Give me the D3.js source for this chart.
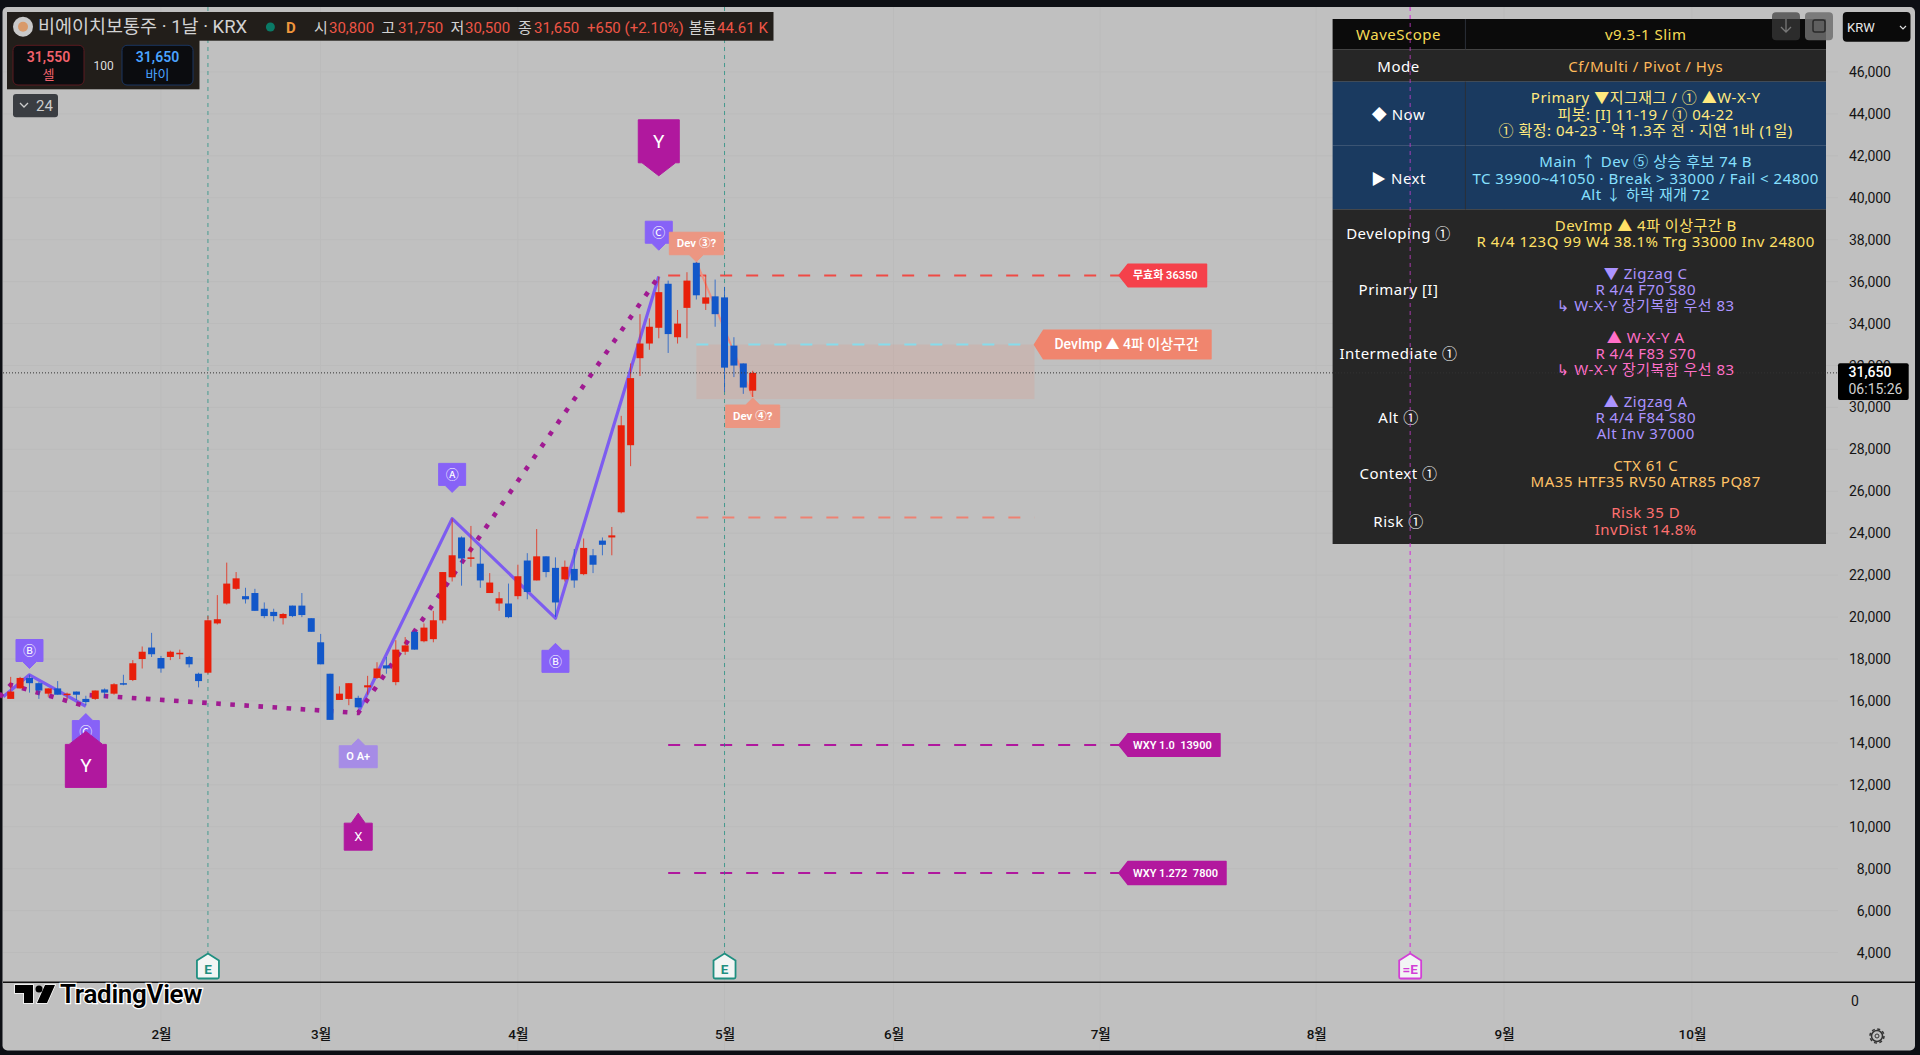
<!DOCTYPE html>
<html lang="ko">
<head>
    <meta charset="UTF-8">
    <script src="https://d3js.org/d3.v7.min.js"></script>
    <style>
        body { margin: 0; background: #0d0f14; overflow: hidden; }
        svg { display: block; }
        text { font-family: Roboto, 'Noto Sans CJK KR', sans-serif; white-space: pre; }
        .tbl text { font-family: 'Noto Sans', 'Noto Sans CJK KR', 'DejaVu Sans', sans-serif; font-size: 15px; letter-spacing: 0.5px; text-anchor: middle; dominant-baseline: central; }
        .pad text { text-anchor: middle; dominant-baseline: central; fill: #fff; }
    </style>
</head>
<body>
    <svg id="chart" width="1920" height="1055"></svg>

    <script>
        // Daily candles
        const opens = [16100,16600,17100,16850,16350,16600,16300,16450,16100,16100,16550,16350,16850,17000,18000,18550,18050,18100,18250,18100,17300,17350,19700,20650,21350,21000,21150,20400,20250,19950,20550,20550,19950,18800,17300,16050,16100,16150,16650,17100,17700,16900,18350,19300,18850,18950,19850,21900,23800,22800,22550,21150,20650,20650,21000,22700,21750,22900,22350,21800,22300,22050,22950,23650,23800,25000,28200,32350,33050,33800,35900,33350,34750,36900,34950,35300,35250,32950,32100,30800];
        const closes = [16450,17100,16850,16500,16600,16300,16350,16300,15950,16500,16400,16800,16800,17800,18350,18230,17550,18350,18300,17750,16950,19850,19900,21600,21850,20850,20300,20050,20050,20150,20050,20100,19300,17750,15100,16350,16850,15700,16750,17550,17550,18450,18650,18450,19500,19850,22150,22950,22800,22850,21750,21650,20900,20000,21950,21200,22900,22150,20700,22400,21750,23300,22500,23450,23900,29150,31400,33050,33850,35500,33500,34000,36050,35350,35250,34450,31900,32000,30950,31650];
        const highs = [17150,17150,17250,16900,16600,16950,16400,16450,16250,16500,16600,16850,17250,17950,18600,19250,18150,18400,18450,18150,17350,20050,21050,22600,22150,21400,21350,20700,20400,20200,20550,21150,19950,19200,17300,16700,16850,16250,17200,17850,18100,18900,19050,19350,19700,20300,22150,24700,23850,24350,23350,22100,21200,21600,22500,23050,24200,22900,22850,22700,23250,23750,23250,23800,24300,29600,32100,34450,34250,36250,36050,34650,36450,36950,36300,36100,35750,33350,32100,31750];
        const lows = [16100,16600,16400,16100,16200,16300,16100,16050,15800,16050,16150,16300,16750,16950,17550,18100,17350,17950,18000,17600,16650,17300,19650,20600,21300,20650,20300,19950,19800,19650,20000,20000,19300,17750,15100,16050,15800,15650,16300,17050,17300,16750,18200,18450,18800,18800,19700,21700,21500,22400,21400,21150,20300,19950,20850,20850,21750,21900,20000,21700,21400,22000,22100,22950,22950,24950,27200,31500,32750,33300,32600,33050,33300,35150,34650,33850,30750,31450,30650,30500];

        // Price and time axis
        const priceTicks = [46000,44000,42000,40000,38000,36000,34000,32000,30000,28000,26000,24000,22000,20000,18000,16000,14000,12000,10000,8000,6000,4000];
        const monthIdx = [16,33,54,76,94,116,139,159,179];
        const monthLabels = ['2월','3월','4월','5월','6월','7월','8월','9월','10월'];

        // Wave lines as bar index / price pivots
        const waveLeftIdx = [-0.8,2,8];
        const waveLeftPrice = [16200,17250,15750];
        const waveMainIdx = [37,47,58,69];
        const waveMainPrice = [15450,24700,19950,36250];
        const dotLeftIdx = [-1.2,0,8];
        const dotLeftPrice = [16200,16770,15750];
        const dotMainIdx = [8.4,37,69];
        const dotMainPrice = [16280,15430,36250];
        const devIdx = [73,79];
        const devPrice = [36950,30500];

        // Horizontal levels
        const levelPrices = [36300,33000,24750,13900,7800];
        const levelFrom = [70,73,73,70,70];
        const levelTo = [118,109,109,118,118];
        const levelColors = ['#ef4b45','#86dcec','#ee8172','#b0189e','#b0189e'];
        const zonePrices = [33000,30400];
        const zoneIdx = [73,109];

        // Vertical event lines
        const eventIdx = [21,76,149];
        const eventColors = ['#1f8f80','#1f8f80','#d23fd6'];
        const eventLabels = ['E','E','=E'];

        // Tags on the wave pivots
        const tagText = ['Ⓒ','Dev ③?','Dev ④?','Ⓐ','Ⓑ','Ⓑ','Ⓒ','Y','Y','X','O A+'];
        const tagIdx = [69,73,79,47,58,2,8,8,69,37,37];
        const tagPrice = [37500,36950,30450,25950,18750,17550,15400,14550,41050,10650,14200];
        const tagDir = ['down','down','up','down','up','down','up','up','down','up','up'];
        const tagKind = ['wave','dev','dev','wave','wave','wave','wave','big','big','mid','oa'];

        // Level labels
        const flagText = ['무효화 36350','DevImp ▲ 4파 이상구간','WXY 1.0  13900','WXY 1.272  7800'];
        const flagIdx = [118,109,118,118];
        const flagPrice = [36300,33000,13900,7800];
        const flagColors = ['#f5414b','#f0856e','#b2189e','#b2189e'];

        // WaveScope table
        const tableLabels = ['WaveScope','Mode','◆ Now','▶ Next','Developing ①','Primary [I]','Intermediate ①','Alt ①','Context ①','Risk ①'];
        const tableLines = [
            ['v9.3-1 Slim'],
            ['Cf/Multi / Pivot / Hys'],
            ['Primary ▼지그재그 / ① ▲W-X-Y','피봇: [I] 11-19 / ① 04-22','① 확정: 04-23 · 약 1.3주 전 · 지연 1바 (1일)'],
            ['Main ↑ Dev ⑤ 상승 후보 74 B','TC 39900~41050 · Break > 33000 / Fail < 24800','Alt ↓ 하락 재개 72'],
            ['DevImp ▲ 4파 이상구간 B','R 4/4 123Q 99 W4 38.1% Trg 33000 Inv 24800'],
            ['▼ Zigzag C','R 4/4 F70 S80','↳ W-X-Y 장기복합 우선 83'],
            ['▲ W-X-Y A','R 4/4 F83 S70','↳ W-X-Y 장기복합 우선 83'],
            ['▲ Zigzag A','R 4/4 F84 S80','Alt Inv 37000'],
            ['CTX 61 C','MA35 HTF35 RV50 ATR85 PQ87'],
            ['Risk 35 D','InvDist 14.8%']
        ];
        const tableColors = ['#f6dc55','#ffb95a','#ffe97f','#86e0ff','#ffe066','#ab93ff','#ff6fc8','#ab93ff','#ffc266','#ff7070'];

        const data = opens.map((o, i) => ({ i, o, c: closes[i], h: highs[i], l: lows[i] }));

        const svg = d3.select('#chart');

        // Scales
        const x = d3.scaleLinear().domain([0, 79]).range([10.7, 752.7]);
        const y = d3.scaleLinear().domain([4000, 46000]).range([952.6, 72]);

        // Panel
        svg.append('rect').attr('x', 2.5).attr('y', 7).attr('width', 1912.5).attr('height', 1043.5).attr('rx', 5).attr('fill', '#c0c0c0');

        // Grid
        svg.append('g').selectAll('line').data(priceTicks).enter().append('line')
            .attr('x1', 3).attr('x2', 1838).attr('y1', d => y(d)).attr('y2', d => y(d))
            .attr('stroke', '#bbbbbb');
        svg.append('g').selectAll('line').data(monthIdx).enter().append('line')
            .attr('x1', d => x(d)).attr('x2', d => x(d)).attr('y1', 7).attr('y2', 1050)
            .attr('stroke', '#bbbbbb');

        // Zone and levels
        svg.append('rect')
            .attr('x', x(zoneIdx[0])).attr('width', x(zoneIdx[1]) - x(zoneIdx[0]))
            .attr('y', y(zonePrices[0])).attr('height', y(zonePrices[1]) - y(zonePrices[0]))
            .attr('fill', '#e8907c').attr('fill-opacity', 0.2);

        svg.append('g').selectAll('line').data(levelPrices).enter().append('line')
            .attr('x1', (d, i) => x(levelFrom[i])).attr('x2', (d, i) => x(levelTo[i]))
            .attr('y1', d => y(d)).attr('y2', d => y(d))
            .attr('stroke', (d, i) => levelColors[i]).attr('stroke-width', 2)
            .attr('stroke-dasharray', '12 14');

        // Event lines
        svg.append('g').selectAll('line').data(eventIdx).enter().append('line')
            .attr('x1', d => x(d)).attr('x2', d => x(d)).attr('y1', 7).attr('y2', 954)
            .attr('stroke', (d, i) => eventColors[i]).attr('stroke-dasharray', '4 4').attr('stroke-opacity', 0.75);

        // Wave and dotted lines
        const line = d3.line().x(d => x(d[0])).y(d => y(d[1]));
        const zipped = (a, b) => a.map((v, i) => [v, b[i]]);

        svg.append('path').attr('d', line(zipped(devIdx, devPrice)))
            .attr('fill', 'none').attr('stroke', '#ee9180').attr('stroke-width', 2);
        [[waveLeftIdx, waveLeftPrice], [waveMainIdx, waveMainPrice]].forEach(w => {
            svg.append('path').attr('d', line(zipped(w[0], w[1])))
                .attr('fill', 'none').attr('stroke', '#7d5cf0').attr('stroke-width', 3.2).attr('stroke-linejoin', 'round');
        });
        [[dotLeftIdx, dotLeftPrice], [dotMainIdx, dotMainPrice]].forEach(w => {
            svg.append('path').attr('d', line(zipped(w[0], w[1])))
                .attr('fill', 'none').attr('stroke', '#a01a92').attr('stroke-width', 4.6).attr('stroke-dasharray', '4.6 9.5');
        });

        // Candles
        const candleColor = d => d.c >= d.o ? '#e81f0a' : '#1257c9';
        const candles = svg.append('g').selectAll('g').data(data).enter().append('g');
        candles.append('line')
            .attr('x1', d => x(d.i)).attr('x2', d => x(d.i))
            .attr('y1', d => y(d.h)).attr('y2', d => y(d.l))
            .attr('stroke', candleColor).attr('stroke-opacity', 0.75);
        candles.append('rect')
            .attr('x', d => x(d.i) - 3.5).attr('width', 7)
            .attr('y', d => y(Math.max(d.o, d.c)))
            .attr('height', d => Math.max(1.5, Math.abs(y(d.o) - y(d.c))))
            .attr('fill', candleColor);

        // Tags with a pointer
        const kinds = {
            wave: { w: 27, h: 22, p: 7, fill: '#8762f7', size: 13 },
            dev: { w: 54, h: 22.5, p: 7, fill: '#ec9682', size: 11.5, bold: true },
            big: { w: 41, h: 43, p: 13, fill: '#b0189e', size: 19 },
            mid: { w: 28, h: 27, p: 10, fill: '#b0189e', size: 13 },
            oa: { w: 38, h: 22, p: 7, fill: '#a68ce6', size: 11, bold: true }
        };
        function tagPath(k, dir) {
            const s = dir === 'down' ? -1 : 1; // box sits on the far side of the tip
            const w = k.w / 2;
            return `M0,0 L${7 * (k.p > 10 ? 2.4 : 1)},${s * k.p} L${w},${s * k.p} L${w},${s * (k.p + k.h)} L${-w},${s * (k.p + k.h)} L${-w},${s * k.p} L${-7 * (k.p > 10 ? 2.4 : 1)},${s * k.p} Z`;
        }
        const tags = svg.append('g').attr('class', 'pad').selectAll('g').data(tagText).enter().append('g')
            .attr('transform', (d, i) => `translate(${x(tagIdx[i])},${y(tagPrice[i])})`);
        tags.append('path')
            .attr('d', (d, i) => tagPath(kinds[tagKind[i]], tagDir[i]))
            .attr('fill', (d, i) => kinds[tagKind[i]].fill)
            .attr('stroke', (d, i) => kinds[tagKind[i]].fill).attr('stroke-width', 1).attr('stroke-linejoin', 'round');
        tags.append('text')
            .attr('y', (d, i) => {
                const k = kinds[tagKind[i]];
                return (tagDir[i] === 'down' ? -1 : 1) * (k.p + k.h / 2);
            })
            .attr('font-size', (d, i) => kinds[tagKind[i]].size)
            .attr('font-weight', (d, i) => kinds[tagKind[i]].bold ? 600 : 400)
            .text(d => d);

        // Level labels
        const flagW = [87.5, 176.5, 101, 107];
        const flagH = [22.5, 28.5, 22.5, 23];
        const flags = svg.append('g').selectAll('g').data(flagText).enter().append('g')
            .attr('transform', (d, i) => `translate(${x(flagIdx[i])},${y(flagPrice[i])})`);
        flags.append('path')
            .attr('d', (d, i) => {
                const w = flagW[i], h = flagH[i] / 2;
                return `M0,0 L9,${-h} L${w},${-h} L${w},${h} L9,${h} Z`;
            })
            .attr('fill', (d, i) => flagColors[i])
            .attr('stroke', (d, i) => flagColors[i]).attr('stroke-width', 1.5).attr('stroke-linejoin', 'round');
        flags.append('text')
            .attr('x', (d, i) => i === 1 ? 20 : 14).attr('dy', '0.35em')
            .attr('fill', '#fff')
            .attr('font-size', (d, i) => i === 1 ? 14 : 11)
            .attr('font-weight', (d, i) => i === 1 ? 500 : 600)
            .text(d => d);

        // Table
        const rowTops = [19, 49.3, 81.7, 145.7, 209.3, 257, 321, 385, 449, 497];
        const rowBottoms = [49.3, 81.7, 145.7, 209.3, 257, 321, 385, 449, 497, 544];
        const rowFills = ['#0b0b0b', '#262626', '#1a3a60', '#1a3a60', '#262626', '#262626', '#262626', '#262626', '#262626', '#262626'];
        const tbl = svg.append('g').attr('class', 'tbl');
        const rows = tbl.selectAll('g').data(tableLabels).enter().append('g');
        rows.append('rect')
            .attr('x', 1332.6).attr('width', 493.4)
            .attr('y', (d, i) => rowTops[i]).attr('height', (d, i) => rowBottoms[i] - rowTops[i])
            .attr('fill', (d, i) => rowFills[i]);
        rows.filter((d, i) => i === 0 || (i >= 2 && i <= 3)).append('line')
            .attr('x1', 1465.4).attr('x2', 1465.4)
            .attr('y1', (d, i) => rowTops[i === 0 ? 0 : i + 1]).attr('y2', (d, i) => rowBottoms[i === 0 ? 0 : i + 1])
            .attr('stroke', '#2b3038');
        rows.append('text')
            .attr('x', 1398.5)
            .attr('y', (d, i) => (rowTops[i] + rowBottoms[i]) / 2)
            .attr('fill', (d, i) => i === 0 ? tableColors[0] : '#ffffff')
            .text(d => d);
        rows.each(function (d, i) {
            const lines = tableLines[i];
            const mid = (rowTops[i] + rowBottoms[i]) / 2;
            d3.select(this).selectAll('.val').data(lines).enter().append('text')
                .attr('class', 'val')
                .attr('x', 1645.7)
                .attr('y', (t, j) => mid + (j - (lines.length - 1) / 2) * 16.3)
                .attr('fill', tableColors[i])
                .text(t => t);
        });

        // Event line that runs over the table
        svg.append('line')
            .attr('x1', x(eventIdx[2])).attr('x2', x(eventIdx[2])).attr('y1', 7).attr('y2', 954)
            .attr('stroke', eventColors[2]).attr('stroke-dasharray', '4 4').attr('stroke-opacity', 0.75);

        // Last price line
        svg.append('line')
            .attr('x1', 3).attr('x2', 1838).attr('y1', y(closes[79])).attr('y2', y(closes[79]))
            .attr('stroke', '#333').attr('stroke-dasharray', '1 2');

        // Time axis strip
        svg.append('line').attr('x1', 3).attr('x2', 1915).attr('y1', 982.3).attr('y2', 982.3)
            .attr('stroke', '#111').attr('stroke-width', 1.5);

        // Event flags
        const ev = svg.append('g').selectAll('g').data(eventIdx).enter().append('g')
            .attr('transform', d => `translate(${x(d)},953.5)`);
        ev.append('path')
            .attr('d', 'M0,0 L11,7 L11,23.5 Q11,25 9.5,25 L-9.5,25 Q-11,25 -11,23.5 L-11,7 Z')
            .attr('fill', '#f2f5f4').attr('stroke', (d, i) => eventColors[i]).attr('stroke-width', 1.8);
        ev.append('text')
            .attr('y', 20).attr('text-anchor', 'middle').attr('font-size', 13.5).attr('font-weight', 700)
            .attr('fill', (d, i) => eventColors[i]).text((d, i) => eventLabels[i]);

        // Price axis
        const priceAxis = d3.axisRight(y).tickValues(priceTicks).tickFormat(d3.format(',')).tickSize(0).tickPadding(0);
        const pa = svg.append('g').attr('transform', 'translate(1891,0)').call(priceAxis);
        pa.select('.domain').remove();
        pa.selectAll('text').attr('text-anchor', 'end').attr('font-size', 14).attr('fill', '#141414')
            .style('font-family', "Roboto, sans-serif");
        svg.append('text').attr('x', 1851).attr('y', 1006).attr('font-size', 14).attr('fill', '#141414').text('0');

        // Time axis
        const timeAxis = d3.axisBottom(x).tickValues(monthIdx).tickFormat((d, i) => monthLabels[i]).tickSize(0).tickPadding(0);
        const ta = svg.append('g').attr('transform', 'translate(0,1029)').call(timeAxis);
        ta.select('.domain').remove();
        ta.selectAll('text').attr('font-size', 13.5).attr('font-weight', 500).attr('fill', '#111')
            .style('font-family', "Roboto, 'Noto Sans CJK KR', sans-serif");

        // Last price box
        svg.append('rect').attr('x', 1838).attr('y', 363.3).attr('width', 70.7).attr('height', 36.7).attr('rx', 2).attr('fill', '#000');
        svg.append('text').attr('x', 1848.5).attr('y', 377).attr('font-size', 14).attr('font-weight', 500).attr('fill', '#fff').text('31,650');
        svg.append('text').attr('x', 1848.5).attr('y', 394).attr('font-size', 14).attr('fill', '#d0d0d0').text('06:15:26');

        // Legend
        svg.append('rect').attr('x', 7).attr('y', 12).attr('width', 766.5).attr('height', 28.7).attr('fill', '#221e1a');
        svg.append('rect').attr('x', 7).attr('y', 40).attr('width', 192.5).attr('height', 49.3).attr('fill', '#221e1a');
        svg.append('circle').attr('cx', 23).attr('cy', 26.7).attr('r', 10).attr('fill', '#c9c9c9');
        svg.append('circle').attr('cx', 23).attr('cy', 26.7).attr('r', 5).attr('fill', '#d99a6a');
        svg.append('circle').attr('cx', 270.4).attr('cy', 27).attr('r', 4.5).attr('fill', '#0a7a66');

        const legendGrey = ['시', '고', '저', '종', '볼륨'];
        const legendGreyX = [314, 381.6, 450.5, 518, 688.8];
        const legendVal = ['30,800', '31,750', '30,500', '31,650', '+650 (+2.10%)', '44.61 K'];
        const legendValX = [329, 398, 465, 534, 587, 717];
        const lg = svg.append('g').attr('font-size', 15);
        lg.append('text').attr('x', 38).attr('y', 33).attr('font-size', 18.5).attr('fill', '#d2d2d2').text('비에이치보통주 · 1날 · KRX');
        lg.append('text').attr('x', 286).attr('y', 33).attr('font-weight', 700).attr('fill', '#f0963c').text('D');
        lg.selectAll('.g').data(legendGrey).enter().append('text').attr('class', 'g')
            .attr('x', (d, i) => legendGreyX[i]).attr('y', 32.5).attr('fill', '#d2d2d2').text(d => d);
        lg.selectAll('.v').data(legendVal).enter().append('text').attr('class', 'v')
            .attr('x', (d, i) => legendValX[i]).attr('y', 32.5).attr('fill', '#ee5546').text(d => d);

        // Sell / buy buttons
        const tradeX = [13, 122];
        const tradeVal = ['31,550', '31,650'];
        const tradeSide = ['셀', '바이'];
        const tradeColor = ['#f0626c', '#4aa3ff'];
        const tradeEdge = ['#5a1a20', '#1a3560'];
        const tr = svg.append('g').selectAll('g').data(tradeX).enter().append('g').attr('transform', d => `translate(${d},45.3)`);
        tr.append('rect').attr('width', 71).attr('height', 39.7).attr('rx', 5).attr('fill', '#0b0c0f')
            .attr('stroke', (d, i) => tradeEdge[i]);
        tr.append('text').attr('x', 35.5).attr('y', 17).attr('text-anchor', 'middle').attr('font-size', 14).attr('font-weight', 600)
            .attr('fill', (d, i) => tradeColor[i]).text((d, i) => tradeVal[i]);
        tr.append('text').attr('x', 35.5).attr('y', 34).attr('text-anchor', 'middle').attr('font-size', 13)
            .attr('fill', (d, i) => tradeColor[i]).text((d, i) => tradeSide[i]);
        svg.append('text').attr('x', 103.6).attr('y', 69.5).attr('text-anchor', 'middle').attr('font-size', 12).attr('fill', '#ddd').text('100');

        // Collapse button
        svg.append('rect').attr('x', 13).attr('y', 94).attr('width', 45).attr('height', 23.3).attr('rx', 3).attr('fill', '#3a3d42');
        svg.append('path').attr('d', 'M20,103 L24,107 L28,103').attr('fill', 'none').attr('stroke', '#ccc').attr('stroke-width', 1.3);
        svg.append('text').attr('x', 36).attr('y', 111).attr('font-size', 15).attr('fill', '#ccc').text('24');

        // Top right buttons
        [1772, 1805].forEach((bx, i) => {
            svg.append('rect').attr('x', bx).attr('y', 12.3).attr('width', 28).attr('height', 28).attr('rx', 4)
                .attr('fill', i === 0 ? '#3a3a3a' : '#6e6e6e').attr('fill-opacity', i === 0 ? 0.7 : 0.85);
        });
        svg.append('path').attr('d', 'M1786,19 L1786,32 M1781,27 L1786,32 L1791,27').attr('fill', 'none').attr('stroke', '#777').attr('stroke-width', 1.3);
        svg.append('rect').attr('x', 1813).attr('y', 20).attr('width', 12).attr('height', 12).attr('rx', 2).attr('fill', 'none').attr('stroke', '#2a2a2a').attr('stroke-width', 1.5);
        svg.append('rect').attr('x', 1842.8).attr('y', 12).attr('width', 67.7).attr('height', 29.7).attr('rx', 4).attr('fill', '#0a0a0a');
        svg.append('text').attr('x', 1847).attr('y', 31.5).attr('font-size', 13).attr('fill', '#e8e8e8').text('KRW');
        svg.append('path').attr('d', 'M1900,26 L1903,29 L1906,26').attr('fill', 'none').attr('stroke', '#ddd').attr('stroke-width', 1.2);

        // TradingView mark
        svg.append('path').attr('d', 'M15,985 L33,985 L33,1003 L24,1003 L24,993 L15,993 Z M45,985 L55,985 L47,1003 L37,1003 Z')
            .attr('fill', '#000').attr('stroke', '#fff').attr('stroke-width', 1.5).attr('paint-order', 'stroke');
        svg.append('circle').attr('cx', 39).attr('cy', 989).attr('r', 3.5).attr('fill', '#000');
        svg.append('text').attr('x', 60).attr('y', 1003).attr('font-size', 26).attr('font-weight', 600).attr('fill', '#000')
            .attr('stroke', '#fff').attr('stroke-width', 2.5).attr('paint-order', 'stroke').attr('letter-spacing', -0.3).text('TradingView');

        // Settings gear
        svg.append('circle').attr('cx', 1877).attr('cy', 1036).attr('r', 5.5).attr('fill', 'none').attr('stroke', '#333').attr('stroke-width', 1.5);
        svg.append('circle').attr('cx', 1877).attr('cy', 1036).attr('r', 7).attr('fill', 'none').attr('stroke', '#333').attr('stroke-width', 1.5).attr('stroke-dasharray', '3 2.5');
        svg.append('circle').attr('cx', 1877).attr('cy', 1036).attr('r', 2).attr('fill', 'none').attr('stroke', '#333');
    </script>
</body>
</html>
